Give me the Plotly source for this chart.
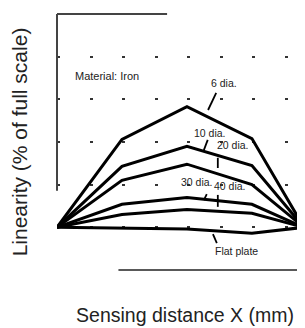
import plotly.graph_objects as go

# Data (x in grid units of sensing distance, y in % of full scale units)
distance = [0, 2, 4, 6, 7.6]
dia6 = [0, 2.06, 2.83, 2.08, 0]
dia10 = [0, 1.43, 1.90, 1.45, 0]
dia20 = [0, 1.10, 1.48, 1.00, 0]
dia30 = [0, 0.54, 0.70, 0.54, 0]
dia40 = [0, 0.30, 0.42, 0.33, 0]
flat_plate = [0, -0.02, -0.04, -0.14, 0]

series = [("6 dia.", dia6), ("10 dia.", dia10), ("20 dia.", dia20),
          ("30 dia.", dia30), ("40 dia.", dia40), ("Flat plate", flat_plate)]

# label text position, leader start and leader end (data units)
labels = [
    ("6 dia.", 5.14, 3.39, 4.90, 3.15, 4.65, 2.75),
    ("10 dia.", 4.71, 2.22, 4.64, 2.05, 4.52, 1.81),
    ("20 dia.", 5.42, 1.92, 4.95, 1.63, 4.95, 1.39),
    ("30 dia.", 4.31, 1.07, 4.61, 0.78, 4.52, 0.64),
    ("40 dia.", 5.32, 0.98, 4.95, 0.76, 4.95, 0.48),
    ("Flat plate", 5.54, -0.55, 4.92, -0.37, 4.80, -0.16),
]

fig = go.Figure()
for name, vals in series:
    fig.add_trace(go.Scatter(x=distance, y=vals, mode="lines", name=name,
                             line=dict(color="black", width=3), showlegend=False))

for text, tx, ty, x0, y0, x1, y1 in labels:
    fig.add_annotation(x=tx, y=ty, text=text, showarrow=False,
                       font=dict(size=10.5, color="#222"))
    fig.add_shape(type="line", x0=x0, y0=y0, x1=x1, y1=y1,
                  line=dict(color="black", width=1.8))

fig.add_annotation(x=0.49, y=3.55, text="Material: Iron", showarrow=False,
                   xanchor="left", font=dict(size=11, color="#222"))

# partial frame (as in the scan)
fig.add_shape(type="line", xref="paper", yref="paper", x0=0, x1=0, y0=0.31, y1=1.0,
              line=dict(color="#444", width=2))
fig.add_shape(type="line", xref="paper", yref="paper", x0=0, x1=0.43, y0=1.0, y1=1.0,
              line=dict(color="#444", width=2))
fig.add_shape(type="line", xref="paper", yref="paper", x0=0.24, x1=1.0, y0=0, y1=0,
              line=dict(color="#222", width=1.5))

fig.update_layout(
    width=305, height=328,
    margin=dict(l=49, r=0, t=6, b=66),
    paper_bgcolor="white", plot_bgcolor="white",
    font=dict(family="Liberation Sans, Arial, sans-serif", color="#222"),
    xaxis=dict(range=[0, 7.88], showgrid=False, zeroline=False, showticklabels=False,
               ticks="", showline=False, automargin=False,
               title=dict(text="Sensing distance X (mm)", font=dict(size=19.5), standoff=38)),
    yaxis=dict(range=[-1, 5], dtick=1, showgrid=True, gridcolor="#333", gridwidth=2,
               griddash="3px,29.5px", zeroline=False, showticklabels=False, ticks="",
               showline=False, automargin=False,
               title=dict(text="Linearity (% of full scale)", font=dict(size=21), standoff=26)),
)

fig.write_html("out.html")
